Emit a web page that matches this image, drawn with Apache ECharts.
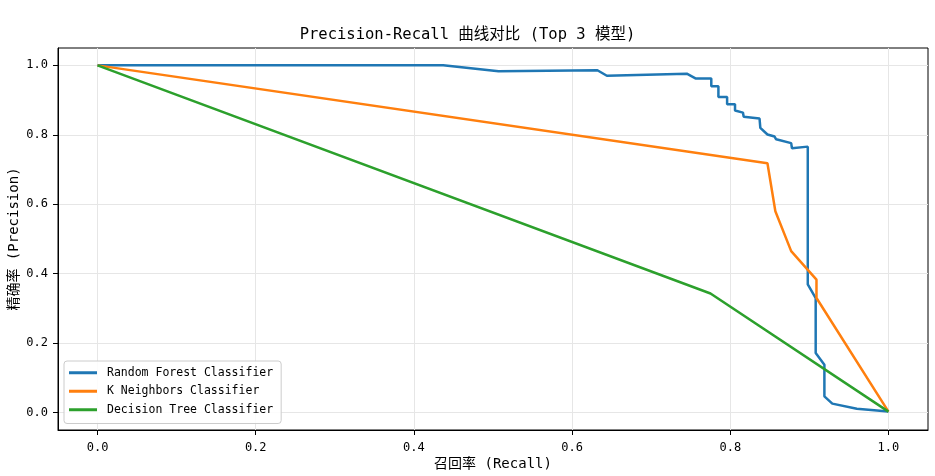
<!DOCTYPE html>
<html>
<head>
<meta charset="utf-8">
<script src="https://cdn.jsdelivr.net/npm/echarts@6/dist/echarts.min.js"></script>
<style>
html,body{margin:0;padding:0;background:#fff;}
#c{width:935px;height:476px;}
</style>
</head>
<body>
<div id="c"></div>
<script>
const seriesNames = ['Random Forest Classifier', 'K Neighbors Classifier', 'Decision Tree Classifier'];
const tickValues = [0, 0.2, 0.4, 0.6, 0.8, 1.0];

const rfRecall = [0, 0.437, 0.507, 0.632, 0.644, 0.745, 0.756, 0.776, 0.776, 0.785, 0.785, 0.796, 0.796, 0.806, 0.806, 0.816, 0.817, 0.837, 0.838, 0.847, 0.856, 0.858, 0.877, 0.878, 0.898, 0.898, 0.908, 0.908, 0.919, 0.919, 0.929, 0.960, 1.0];
const rfPrecision = [1.0, 1.0, 0.983, 0.986, 0.970, 0.976, 0.9625, 0.9625, 0.940, 0.940, 0.909, 0.909, 0.888, 0.888, 0.870, 0.864, 0.852, 0.847, 0.820, 0.801, 0.795, 0.787, 0.776, 0.761, 0.766, 0.369, 0.330, 0.172, 0.138, 0.047, 0.026, 0.011, 0.003];

const knnRecall = [0, 0.847, 0.857, 0.877, 0.909, 0.909, 1.0];
const knnPrecision = [1.0, 0.718, 0.580, 0.465, 0.383, 0.330, 0.003];

const dtRecall = [0, 0.775, 1.0];
const dtPrecision = [1.0, 0.343, 0.003];

const colors = ['#1f77b4', '#ff7f0e', '#2ca02c'];
const FONT = "'DejaVu Sans Mono', 'Noto Sans CJK SC', monospace";

function pairs(xs, ys) { return xs.map((x, i) => [x, ys[i]]); }

const chart = echarts.init(document.getElementById('c'), null, {renderer: 'canvas'});

function axisCommon(name, gap, rotate, labelMargin) {
  return {
    type: 'value',
    min: -0.05,
    max: 1.05,
    name: name,
    nameLocation: 'middle',
    nameGap: gap,
    nameRotate: rotate,
    nameMoveOverlap: false,
    nameTextStyle: {fontFamily: FONT, fontSize: 14, color: '#000'},
    axisLine: {show: true, onZero: false, lineStyle: {color: '#000', width: 1}},
    axisTick: {show: true, inside: false, length: 5, lineStyle: {color: '#000', width: 1}, customValues: tickValues},
    axisLabel: {customValues: tickValues, fontFamily: FONT, fontSize: 12, color: '#000', margin: labelMargin,
      formatter: v => v.toFixed(1)},
    splitLine: {show: true, lineStyle: {color: '#e6e6e6', width: 1}}
  };
}

const option = {
  backgroundColor: '#fff',
  animation: false,
  color: colors,
  title: {
    text: 'Precision-Recall 曲线对比 (Top 3 模型)',
    left: 'center',
    top: 22,
    textStyle: {fontFamily: FONT, fontSize: 15.5, fontWeight: 'normal', color: '#000'}
  },
  grid: {left: 58, right: 7, top: 48, bottom: 46, show: true, borderColor: '#000', borderWidth: 1,
    backgroundColor: 'transparent', containLabel: false, outerBoundsMode: 'none'},
  xAxis: axisCommon('召回率 (Recall)', 27, 0, 12),
  yAxis: axisCommon('精确率 (Precision)', 37, 90, 10),
  legend: {
    orient: 'vertical',
    left: 64,
    top: 361,
    padding: [6, 8, 8, 5],
    itemGap: 7,
    itemWidth: 28,
    itemHeight: 3,
    icon: 'rect',
    backgroundColor: 'rgba(255,255,255,0.85)',
    borderColor: '#cccccc',
    borderWidth: 1,
    borderRadius: 3,
    textStyle: {fontFamily: FONT, fontSize: 11.5, color: '#000', padding: [0, 0, 0, 5]},
    data: seriesNames
  },
  series: [
    {name: seriesNames[0], type: 'line', data: pairs(rfRecall, rfPrecision), symbol: 'none', lineStyle: {width: 2.5}},
    {name: seriesNames[1], type: 'line', data: pairs(knnRecall, knnPrecision), symbol: 'none', lineStyle: {width: 2.5}},
    {name: seriesNames[2], type: 'line', data: pairs(dtRecall, dtPrecision), symbol: 'none', lineStyle: {width: 2.5}}
  ]
};
chart.setOption(option);
</script>
</body>
</html>
